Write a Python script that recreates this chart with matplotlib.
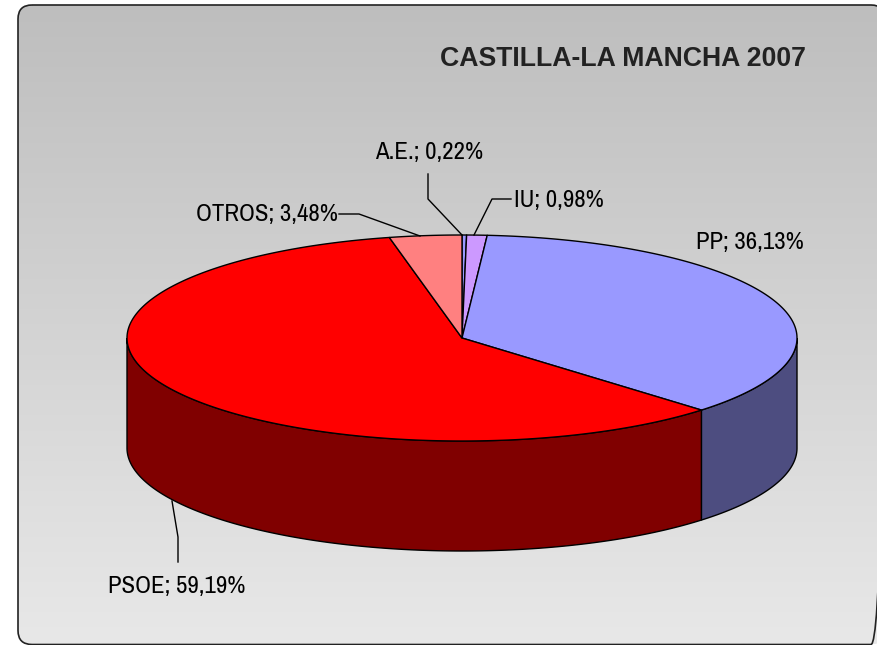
import numpy as np
import matplotlib
matplotlib.use('Agg')
import matplotlib.pyplot as plt
from matplotlib.patches import FancyBboxPatch

title = 'CASTILLA-LA MANCHA 2007'
names = ['A.E.', 'IU', 'PP', 'PSOE', 'OTROS']
shares = [0.22, 0.98, 36.13, 59.19, 3.48]
top_colors = ['#9999FF', '#CC99FF', '#9999FF', '#FF0000', '#FF8080']
side_colors = ['#4D4D80', '#664D80', '#4D4D80', '#800000', '#804040']

# label text centre and leader line, in picture pixels
label_pos = [(429, 152), (559, 200), (750, 243), (177, 587), (267, 215)]
leaders = [[(428, 174), (428, 199), (462, 235)],
           [(511, 199), (492, 199), (474, 235)],
           None,
           [(172, 501), (178, 537), (178, 562)],
           [(339, 214), (359, 214), (420, 236)]]

cx, cy = 462, 338
rx, ry = 335, 103
depth = 110

plt.rcParams['font.family'] = ['Archivo Narrow', 'Liberation Sans']

fig = plt.figure(figsize=(8.77, 6.45), dpi=100)
ax = fig.add_axes([0, 0, 1, 1])
ax.set_xlim(0, 877)
ax.set_ylim(645, 0)
ax.axis('off')

# background panel with gradient, right edge runs off the picture
box = FancyBboxPatch((30, 17), 843, 615.5, boxstyle='round,pad=12,rounding_size=14',
                     facecolor='none', edgecolor='#222222', lw=1.2, zorder=3)
ax.add_patch(box)
grad = np.linspace(0, 1, 256).reshape(-1, 1)
im = ax.imshow(grad, extent=(18, 885, 644, 5), cmap=matplotlib.colors.LinearSegmentedColormap.from_list('bg', ['#BEBEBE', '#E8E8E8']),
               aspect='auto', zorder=1)
im.set_clip_path(box)
ax.set_xlim(0, 877)
ax.set_ylim(645, 0)


def rim(a0, a1):
    t = np.radians(np.linspace(a0, a1, max(int(abs(a1 - a0) * 3), 2)))
    return cx + rx * np.sin(t), cy - ry * np.cos(t)


edges = np.concatenate([[0], np.cumsum(shares)]) / sum(shares) * 360

# side wall, only the front half of the rim shows
for i in range(len(shares)):
    a0, a1 = max(edges[i], 90), min(edges[i + 1], 270)
    if a1 <= a0:
        continue
    x, y = rim(a0, a1)
    ax.fill(np.r_[x, x[::-1]], np.r_[y, y[::-1] + depth], facecolor=side_colors[i],
            edgecolor='black', lw=1, zorder=4)

# top face
for i in range(len(shares)):
    x, y = rim(edges[i], edges[i + 1])
    ax.fill(np.r_[cx, x], np.r_[cy, y], facecolor=top_colors[i],
            edgecolor='black', lw=1, zorder=5, joinstyle='round')

for i in range(len(names)):
    txt = '%s; %s%%' % (names[i], ('%.2f' % shares[i]).replace('.', ','))
    ax.text(label_pos[i][0], label_pos[i][1], txt, fontsize=17.9, color='black',
            ha='center', va='center', zorder=6)
    if leaders[i]:
        ax.plot([p[0] for p in leaders[i]], [p[1] for p in leaders[i]], color='black',
                lw=1, zorder=6)

ax.text(623, 59, title, fontsize=19.2, fontweight='bold', family='Liberation Sans',
        color='#222222', ha='center', va='center', zorder=6)

fig.savefig('out.png', dpi=100, facecolor='white')
